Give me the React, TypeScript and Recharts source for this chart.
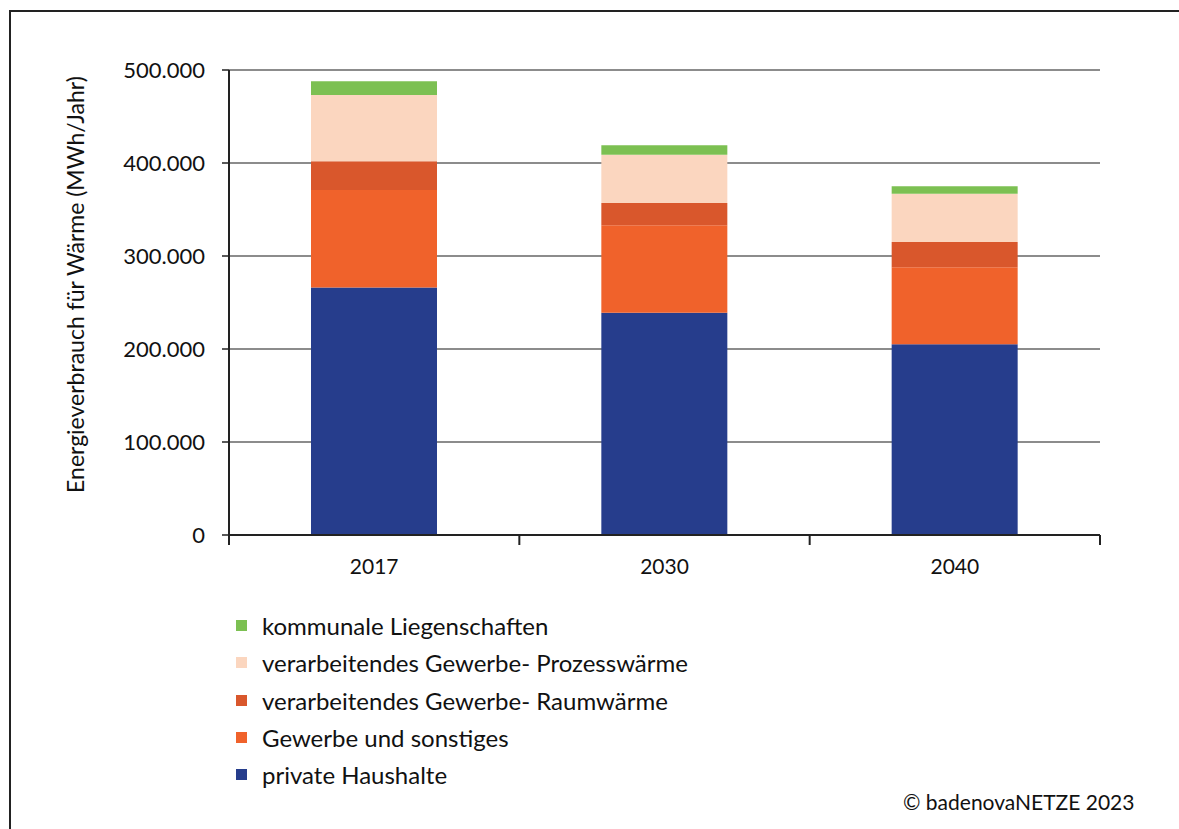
import { BarChart, Bar, XAxis, YAxis, CartesianGrid } from "recharts";

const years = ["2017", "2030", "2040"];
// MWh/Jahr
const privateHaushalte = [266000, 239000, 205000];
const gewerbeSonstiges = [105000, 94000, 83000];
const gewerbeRaumwaerme = [31000, 24000, 27000];
const gewerbeProzesswaerme = [71000, 52000, 52000];
const kommunaleLiegenschaften = [15000, 10000, 8000];
const yTicks = [0, 100000, 200000, 300000, 400000, 500000];

const series = [
  { key: "private", name: "private Haushalte", color: "#263d8c", values: privateHaushalte },
  { key: "gewerbe", name: "Gewerbe und sonstiges", color: "#f0622b", values: gewerbeSonstiges },
  { key: "raum", name: "verarbeitendes Gewerbe- Raumwärme", color: "#d9572c", values: gewerbeRaumwaerme },
  { key: "prozess", name: "verarbeitendes Gewerbe- Prozesswärme", color: "#fbd6bf", values: gewerbeProzesswaerme },
  { key: "kommunal", name: "kommunale Liegenschaften", color: "#7cc052", values: kommunaleLiegenschaften },
];

const data = years.map((year, i) => {
  const row: any = { year };
  series.forEach((s) => (row[s.key] = s.values[i]));
  return row;
});

const font = "Lato, 'Open Sans', sans-serif";
const ink = "#111";
const fmt = (v: number) => String(v).replace(/\B(?=(\d{3})+(?!\d))/g, ".");
const X_TICK_MARGIN = 24;

// year label plus the tick marks that sit between the categories (Excel style)
const YearTick = ({ x, y, payload, index, width, visibleTicksCount }: any) => {
  const band = width / visibleTicksCount;
  const axisY = y - X_TICK_MARGIN;
  return (
    <g>
      <line x1={x - band / 2} x2={x - band / 2} y1={axisY} y2={axisY + 10} stroke="#222" strokeWidth={2} />
      {index === visibleTicksCount - 1 && (
        <line x1={x + band / 2} x2={x + band / 2} y1={axisY} y2={axisY + 10} stroke="#222" strokeWidth={2} />
      )}
      <text x={x} y={y} dy="0.71em" textAnchor="middle" fill={ink} fontSize={21} fontFamily={font}>
        {payload.value}
      </text>
    </g>
  );
};

const YLabel = ({ viewBox }: any) => {
  const cx = viewBox.x + 75;
  const cy = viewBox.y + viewBox.height / 2 - 18;
  return (
    <text
      x={cx}
      y={cy}
      transform={`rotate(-90, ${cx}, ${cy})`}
      textAnchor="middle"
      dominantBaseline="central"
      fill={ink}
      fontSize={23}
      fontFamily={font}
    >
      Energieverbrauch für Wärme (MWh/Jahr)
    </text>
  );
};

// legend drawn as plain html so it doesn't eat into the plot area
const LegendList = () => (
  <div style={{ position: "absolute", left: 236, top: 607, fontFamily: font, fontSize: 24, color: ink }}>
    {[...series].reverse().map((s) => (
      <div key={s.key} style={{ display: "flex", alignItems: "center", height: 37.3, whiteSpace: "nowrap" }}>
        <span style={{ width: 11, height: 11, background: s.color, marginRight: 15 }} />
        <span>{s.name}</span>
      </div>
    ))}
  </div>
);

export default function App() {
  return (
    <div style={{ position: "absolute", left: 0, top: 0, width: 1179, height: 829, background: "#fff", overflow: "hidden" }}>
      <div style={{ position: "absolute", left: 9, top: 10, width: 1300, height: 1000, border: "2px solid #222" }} />
      <div style={{ position: "absolute", left: 0, top: 0 }}>
        <BarChart
          width={1179}
          height={829}
          data={data}
          barCategoryGap={82}
          margin={{ top: 70, right: 79, left: 0, bottom: 264 }}
        >
          <CartesianGrid vertical={false} stroke="#666" strokeWidth={1.5} />
          <XAxis
            dataKey="year"
            height={30}
            tickLine={false}
            tickSize={0}
            axisLine={{ stroke: "#222", strokeWidth: 2 }}
            tickMargin={X_TICK_MARGIN}
            tick={<YearTick />}
          />
          <YAxis
            width={229}
            domain={[0, 500000]}
            ticks={yTicks}
            tickFormatter={fmt}
            tickSize={7}
            tickMargin={17}
            axisLine={{ stroke: "#222", strokeWidth: 2 }}
            tickLine={{ stroke: "#222", strokeWidth: 1.5 }}
            tick={{ fill: ink, fontSize: 22, fontFamily: font }}
            label={{ content: <YLabel /> }}
          />
          {series.map((s) => (
            <Bar key={s.key} dataKey={s.key} name={s.name} stackId="a" fill={s.color} isAnimationActive={false} />
          ))}
        </BarChart>
      </div>
      <LegendList />
      <div
        style={{
          position: "absolute",
          left: 903,
          top: 789,
          fontFamily: font,
          fontSize: 21,
          color: ink,
          whiteSpace: "nowrap",
        }}
      >
        © badenovaNETZE 2023
      </div>
    </div>
  );
}
